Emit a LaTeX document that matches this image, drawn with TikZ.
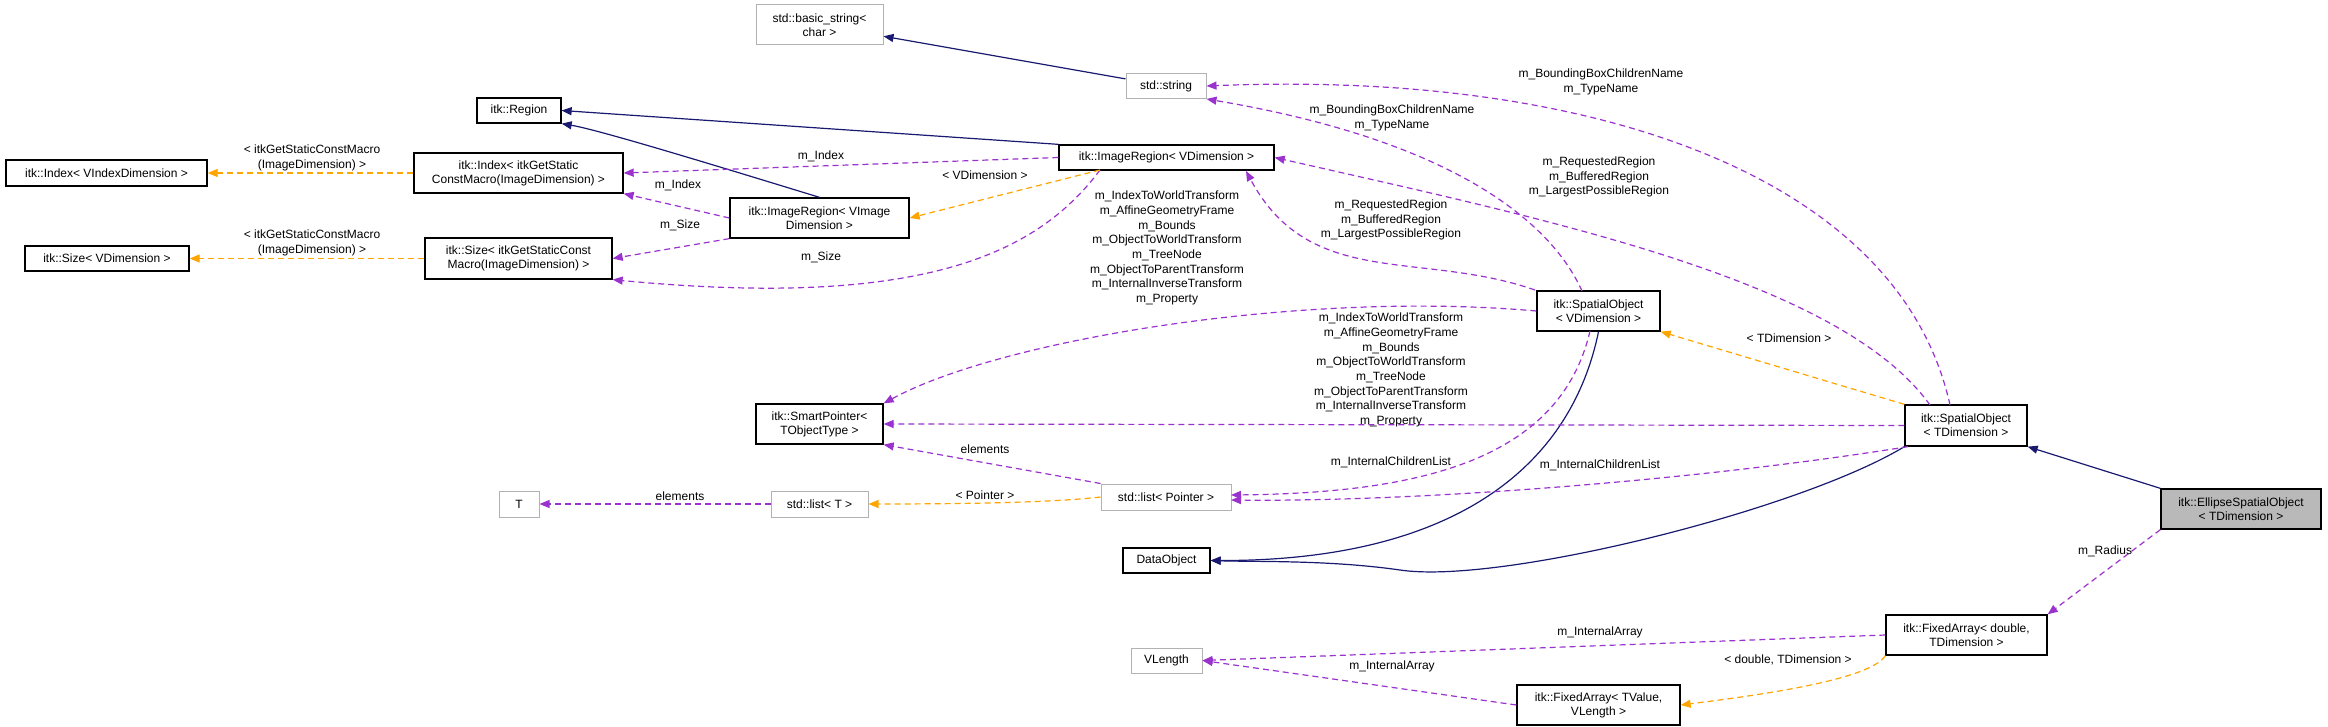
\documentclass[tikz,border=0pt]{standalone}
\usepackage{fontspec}
\setmainfont{Liberation Sans}
\usetikzlibrary{arrows.meta}
\definecolor{navy}{HTML}{191970}
\definecolor{purp}{HTML}{9A32CD}
\definecolor{orng}{HTML}{FFA500}
\tikzset{
 bx/.style={draw=black,line width=1.3pt,fill=white,align=center,font=\fontsize{12}{14}\selectfont,inner sep=1pt},
 gbx/.style={bx,draw=gray!60,line width=1pt},
 inh/.style={draw=navy,line width=1.2pt,-{Triangle[length=10pt,width=8pt]}},
 use/.style={draw=purp,line width=1.2pt,dashed,dash pattern=on 6pt off 4pt,-{Triangle[length=10pt,width=8pt]}},
 tpl/.style={draw=orng,line width=1.2pt,dashed,dash pattern=on 6pt off 4pt,-{Triangle[length=10pt,width=8pt]}},
 lb/.style={align=center,font=\fontsize{12}{14.7}\selectfont,inner sep=0pt}
}
\begin{document}
\begin{tikzpicture}[x=1pt,y=-1pt]
\useasboundingbox (0,0) rectangle (2328,727);
% nodes
\node[gbx,minimum width=127pt,minimum height=40pt] (bstr) at (819.5,25) {std::basic\_string<\\char >};
\node[gbx,minimum width=80pt,minimum height=25pt] (str) at (1166,86) {std::string};
\node[bx,minimum width=84pt,minimum height=25pt] (reg) at (519,110.5) {itk::Region};
\node[bx,minimum width=215pt,minimum height=25pt] (imr) at (1166.5,157.5) {itk::ImageRegion< VDimension >};
\node[bx,minimum width=209pt,minimum height=40pt] (idxg) at (518.5,173) {itk::Index< itkGetStatic\\ConstMacro(ImageDimension) >};
\node[bx,minimum width=201pt,minimum height=26pt] (idxv) at (106.5,173) {itk::Index< VIndexDimension >};
\node[bx,minimum width=179pt,minimum height=40pt] (imrv) at (819.5,218) {itk::ImageRegion< VImage\\Dimension >};
\node[bx,minimum width=187pt,minimum height=41pt] (sizg) at (518.5,258.5) {itk::Size< itkGetStaticConst\\Macro(ImageDimension) >};
\node[bx,minimum width=164pt,minimum height=25pt] (sizv) at (107,258.5) {itk::Size< VDimension >};
\node[bx,minimum width=123pt,minimum height=40pt] (sov) at (1598.5,311) {itk::SpatialObject\\< VDimension >};
\node[bx,minimum width=122pt,minimum height=41pt] (sot) at (1966,425.5) {itk::SpatialObject\\< TDimension >};
\node[bx,fill=gray!55,minimum width=160pt,minimum height=40pt] (ell) at (2241,509) {itk::EllipseSpatialObject\\< TDimension >};
\node[bx,minimum width=127pt,minimum height=40pt] (sp) at (819.5,424) {itk::SmartPointer<\\TObjectType >};
\node[gbx,minimum width=130pt,minimum height=26pt] (lp) at (1166,497) {std::list< Pointer >};
\node[gbx,minimum width=97pt,minimum height=26pt] (lt) at (819.5,504) {std::list< T >};
\node[gbx,minimum width=40pt,minimum height=26pt] (t) at (519,504) {T};
\node[bx,minimum width=87pt,minimum height=25pt] (dobj) at (1166.5,560.5) {DataObject};
\node[bx,minimum width=161pt,minimum height=40pt] (fad) at (1966.5,635) {itk::FixedArray< double,\\TDimension >};
\node[gbx,minimum width=71pt,minimum height=25pt] (vl) at (1166.5,660.5) {VLength};
\node[bx,minimum width=163pt,minimum height=40pt] (fat) at (1598.5,705) {itk::FixedArray< TValue,\\VLength >};
% inheritance
\draw[inh] (str) -- (bstr);
\draw[inh] (imr.north west) -- (reg.east);
\draw[inh] (imrv.north) .. controls (730,170) and (600,130) .. (reg.south east);
\draw[inh] (sov.south) .. controls (1570,470) and (1450,561) .. (dobj.east);
\draw[inh] (sot.south west) .. controls (1800,510) and (1500,585) .. (1400,570) .. controls (1330,560) and (1260,562) .. (dobj.east);
\draw[inh] (ell.north west) -- (sot.south east);
% usage
\draw[use] (imr.west) -- (idxg.east);
\node[lb] at (821,156) {m\_Index};
\draw[use] (imrv.west) -- (idxg.south east);
\node[lb] at (678,185) {m\_Index};
\draw[use] (imrv.south west) -- (sizg.east);
\node[lb] at (680,225) {m\_Size};
\draw[use] (1100,170) .. controls (1040,250) and (930,310) .. (sizg.south east);
\node[lb] at (821,257) {m\_Size};
\draw[use] (1582,291) .. controls (1550,220) and (1450,140) .. (str.south east);
\node[lb] at (1392,118) {m\_BoundingBoxChildrenName\\m\_TypeName};
\draw[use] (1950,405) .. controls (1900,180) and (1600,70) .. (str.east);
\node[lb] at (1601,82) {m\_BoundingBoxChildrenName\\m\_TypeName};
\draw[use] (1535,290) .. controls (1420,250) and (1310,290) .. (1246,171);
\node[lb] at (1391,220) {m\_RequestedRegion\\m\_BufferedRegion\\m\_LargestPossibleRegion};
\draw[use] (1930,405) .. controls (1840,280) and (1550,220) .. (imr.east);
\node[lb] at (1599,177) {m\_RequestedRegion\\m\_BufferedRegion\\m\_LargestPossibleRegion};
\draw[use] (sov.west) .. controls (1300,290) and (1000,340) .. (sp.north east);
\node[lb] at (1167,248) {m\_IndexToWorldTransform\\m\_AffineGeometryFrame\\m\_Bounds\\m\_ObjectToWorldTransform\\m\_TreeNode\\m\_ObjectToParentTransform\\m\_InternalInverseTransform\\m\_Property};
\draw[use] (sot.west) -- (sp.east);
\node[lb] at (1391,370) {m\_IndexToWorldTransform\\m\_AffineGeometryFrame\\m\_Bounds\\m\_ObjectToWorldTransform\\m\_TreeNode\\m\_ObjectToParentTransform\\m\_InternalInverseTransform\\m\_Property};
\draw[use] (1590,331) .. controls (1560,460) and (1420,493) .. (1231,495);
\node[lb] at (1391,462) {m\_InternalChildrenList};
\draw[use] (sot.200) .. controls (1700,480) and (1420,502) .. (1231,500);
\node[lb] at (1600,465) {m\_InternalChildrenList};
\draw[use] (lp.north west) -- (sp.south east);
\node[lb] at (985,449) {elements};
\draw[use] (lt) -- (t);
\node[lb] at (680,496) {elements};
\draw[use] (ell.south west) -- (fad.north east);
\node[lb] at (2105,551) {m\_Radius};
\draw[use] (fad.west) -- (vl.east);
\node[lb] at (1600,632) {m\_InternalArray};
\draw[use] (fat.west) -- (vl.east);
\node[lb] at (1392,666) {m\_InternalArray};
% template
\draw[tpl] (idxg) -- (idxv);
\node[lb] at (312,158) {< itkGetStaticConstMacro\\(ImageDimension) >};
\draw[tpl] (sizg) -- (sizv);
\node[lb] at (312,243) {< itkGetStaticConstMacro\\(ImageDimension) >};
\draw[tpl] (1100,170) -- (imrv.east);
\node[lb] at (985,175) {< VDimension >};
\draw[tpl] (sot.north west) -- (sov.south east);
\node[lb] at (1789,338) {< TDimension >};
\draw[tpl] (lp.west) .. controls (1050,503) and (950,504) .. (lt.east);
\node[lb] at (985,495) {< Pointer >};
\draw[tpl] (fad.south west) .. controls (1870,680) and (1760,695) .. (fat.east);
\node[lb] at (1788,660) {< double, TDimension >};
\end{tikzpicture}
\end{document}
